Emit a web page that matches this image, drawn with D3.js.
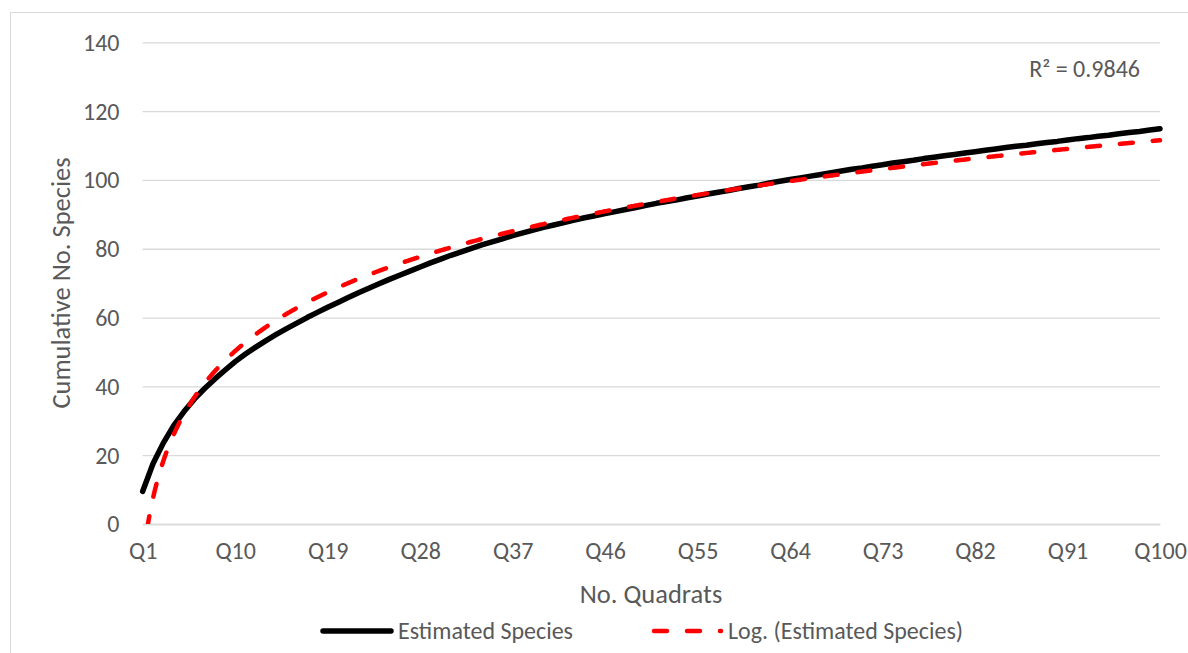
<!DOCTYPE html>
<html>
<head>
<meta charset="utf-8">
<script src="https://cdn.jsdelivr.net/npm/d3@7"></script>
<style>
  body { margin: 0; background: #fff; }
  svg { display: block; font-family: Carlito, Lato, "Open Sans", sans-serif; }
</style>
</head>
<body>
<svg id="chart" width="1188" height="653"></svg>
<script>
"use strict";

// valeurs (espèces cumulées estimées, Q1..Q100)
var species = [
  9.5, 17.5, 23.5, 28.5, 32.6, 36.2, 39.3, 42.1, 44.7, 47.2,
  49.4, 51.4, 53.3, 55.1, 56.8, 58.4, 60.0, 61.5, 63.0, 64.4,
  65.8, 67.2, 68.5, 69.8, 71.1, 72.3, 73.5, 74.7, 75.9, 77.0,
  78.1, 79.1, 80.1, 81.1, 82.0, 82.9, 83.8, 84.6, 85.4, 86.2,
  86.9, 87.6, 88.3, 89.0, 89.6, 90.2, 90.8, 91.4, 92.0, 92.6,
  93.2, 93.7, 94.2, 94.8, 95.3, 95.9, 96.4, 96.9, 97.5, 98.0,
  98.5, 99.1, 99.6, 100.1, 100.6, 101.1, 101.6, 102.1, 102.6, 103.1,
  103.5, 104.0, 104.4, 104.9, 105.3, 105.7, 106.2, 106.6, 107.0, 107.4,
  107.8, 108.2, 108.6, 109.0, 109.4, 109.8, 110.1, 110.5, 110.9, 111.2,
  111.6, 112.0, 112.3, 112.7, 113.0, 113.4, 113.8, 114.1, 114.5, 114.9
];
var quadrats = species.map(function(d, i) { return "Q" + (i + 1); });
var xTickIndex = [1, 10, 19, 28, 37, 46, 55, 64, 73, 82, 91, 100];
var yTicks = [0, 20, 40, 60, 80, 100, 120, 140];
var seriesNames = ["Estimated Species", "Log. (Estimated Species)"];
var r2Label = "R\u00b2 = 0.9846";

var grey = "#595959";
var gridColor = "#d9d9d9";
var tickFont = 24, titleFont = 26.5;
var plotLeft = 142.7, plotRight = 1160, plotTop = 42.3, plotBottom = 524;

var svg = d3.select("#chart");

// cadre du graphique
svg.append("rect")
    .attr("x", 10.5).attr("y", 12.5)
    .attr("width", 1200).attr("height", 700)
    .style("fill", "none")
    .style("stroke", gridColor)
    .attr("stroke-width", 1);

var x = d3.scaleLinear().domain([1, quadrats.length]).range([plotLeft, plotRight]);
var y = d3.scaleLinear().domain([0, 140]).range([plotBottom, plotTop]);

// grille horizontale
svg.append("g")
    .attr("transform", "translate(" + plotLeft + ",0)")
    .call(d3.axisLeft(y).tickValues(yTicks).tickSize(-(plotRight - plotLeft)).tickFormat(""))
    .call(function(g) {
      g.select(".domain").remove();
      g.selectAll("line").style("stroke", gridColor).attr("stroke-width", 1.3);
    });

// étiquettes de l'axe Y
svg.append("g")
    .selectAll("text")
    .data(yTicks)
    .enter()
    .append("text")
      .attr("x", 119.5)
      .attr("y", function(d) { return y(d); })
      .attr("dy", "0.35em")
      .attr("text-anchor", "end")
      .style("fill", grey)
      .attr("font-size", tickFont)
      .text(function(d) { return d; });

// axe X
svg.append("g")
    .attr("transform", "translate(0," + plotBottom + ")")
    .call(d3.axisBottom(x).tickValues(xTickIndex).tickSize(0)
      .tickFormat(function(d) { return quadrats[d - 1]; }))
    .call(function(g) {
      g.select(".domain").style("stroke", gridColor).attr("stroke-width", 1.3);
      g.selectAll("text")
        .attr("y", 27).attr("dy", "0.35em")
        .style("fill", grey).attr("font-size", tickFont)
        .style("font-family", "Carlito, Lato, 'Open Sans', sans-serif");
    });

// titres des axes
svg.append("text")
    .attr("x", 651).attr("y", 594)
    .attr("dy", "0.35em")
    .attr("text-anchor", "middle")
    .style("fill", grey)
    .attr("font-size", titleFont)
    .text("No. Quadrats");

svg.append("text")
    .attr("transform", "translate(61,283) rotate(-90)")
    .attr("dy", "0.35em")
    .attr("text-anchor", "middle")
    .style("fill", grey)
    .attr("font-size", titleFont)
    .text("Cumulative No. Species");

// courbe de tendance logarithmique (moindres carrés sur ln x)
var lx = species.map(function(d, i) { return Math.log(i + 1); });
var mx = d3.mean(lx), my = d3.mean(species);
var sxy = d3.sum(species, function(d, i) { return (lx[i] - mx) * (d - my); });
var sxx = d3.sum(lx, function(d) { return (d - mx) * (d - mx); });
var fitA = sxy / sxx, fitB = my - fitA * mx;
var trend = d3.range(1, quadrats.length + 0.001, 0.1).map(function(t) {
  return [t, fitA * Math.log(t) + fitB];
});

svg.append("clipPath").attr("id", "plotClip")
  .append("rect")
    .attr("x", plotLeft - 5).attr("y", plotTop)
    .attr("width", plotRight - plotLeft + 10).attr("height", plotBottom - plotTop);

var line = d3.line()
    .x(function(d) { return x(d[0]); })
    .y(function(d) { return y(d[1]); });

var plot = svg.append("g").attr("clip-path", "url(#plotClip)");

plot.append("path")
    .datum(species.map(function(d, i) { return [i + 1, d]; }))
    .attr("d", line)
    .style("fill", "none")
    .style("stroke", "#000")
    .attr("stroke-width", 5.5)
    .attr("stroke-linejoin", "round")
    .attr("stroke-linecap", "round");

plot.append("path")
    .datum(trend)
    .attr("d", line)
    .style("fill", "none")
    .style("stroke", "#ff0000")
    .attr("stroke-width", 4.5)
    .attr("stroke-linecap", "round")
    .attr("stroke-dasharray", "13 20");

svg.append("text")
    .attr("x", 1140).attr("y", 69)
    .attr("dy", "0.35em")
    .attr("text-anchor", "end")
    .style("fill", grey)
    .attr("font-size", tickFont)
    .text(r2Label);

// légende
var legendItems = [
  { name: seriesNames[0], x0: 323, x1: 391, color: "#000", width: 5.5, dash: null },
  { name: seriesNames[1], x0: 654, x1: 721, color: "#ff0000", width: 4.5, dash: "13 20" }
];
var legendY = 631;

var legend = svg.append("g")
    .selectAll("g")
    .data(legendItems)
    .enter()
    .append("g");

legend.append("line")
    .attr("x1", function(d) { return d.x0; })
    .attr("x2", function(d) { return d.x1; })
    .attr("y1", legendY).attr("y2", legendY)
    .style("stroke", function(d) { return d.color; })
    .attr("stroke-width", function(d) { return d.width; })
    .attr("stroke-linecap", "round")
    .attr("stroke-dasharray", function(d) { return d.dash; });

legend.append("text")
    .attr("x", function(d) { return d.x1 + 7; })
    .attr("y", legendY)
    .attr("dy", "0.35em")
    .style("fill", grey)
    .attr("font-size", tickFont)
    .text(function(d) { return d.name; });
</script>
</body>
</html>
